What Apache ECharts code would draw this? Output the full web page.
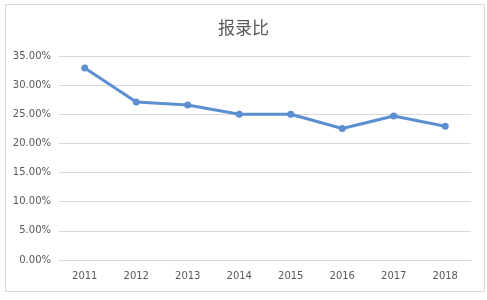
<!DOCTYPE html>
<html><head><meta charset="utf-8">
<script src="https://cdn.jsdelivr.net/npm/echarts@6/dist/echarts.min.js"></script>
<style>html,body{margin:0;padding:0;background:#fff}#c{width:487px;height:300px}</style>
</head><body><div id="c"></div>
<script>
const titleText = '报录比';
const years = ['2011','2012','2013','2014','2015','2016','2017','2018'];
const ratio = [0.3295, 0.271, 0.266, 0.250, 0.250, 0.2255, 0.247, 0.2295];
const yMin = 0, yMax = 0.35, yStep = 0.05;

const chart = echarts.init(document.getElementById('c'), null, {renderer:'canvas'});
chart.setOption({
  animation: false,
  backgroundColor: '#fff',
  graphic: [{type:'rect', shape:{x:5.5,y:4.5,width:479,height:287}, style:{fill:'none', stroke:'#d9d9d9', lineWidth:1}, silent:true}],
  title: {text: titleText, left: 'center', top: 14, textStyle:{fontFamily:'Noto Sans CJK SC', fontSize:17, fontWeight:'normal', color:'#595959'}},
  grid: {left: 59, right: 16, top: 56, bottom: 40, containLabel:false},
  xAxis: {type:'category', data: years, boundaryGap:true,
    axisLine:{lineStyle:{color:'#d9d9d9'}}, axisTick:{show:false},
    axisLabel:{color:'#595959', fontSize:10, fontFamily:'DejaVu Sans', margin:11}},
  yAxis: {type:'value', min:yMin, max:yMax, interval:yStep,
    axisLine:{show:false}, axisTick:{show:false},
    splitLine:{lineStyle:{color:'#d9d9d9'}},
    axisLabel:{color:'#595959', fontSize:10, fontFamily:'DejaVu Sans', margin:8, formatter: v => (v*100).toFixed(2)+'%'}},
  series: [{type:'line', data: ratio, symbol:'circle', symbolSize:7,
    lineStyle:{color:'#5b8fd0', width:3}, itemStyle:{color:'#5b8fd0'}}]
});
</script></body></html>
